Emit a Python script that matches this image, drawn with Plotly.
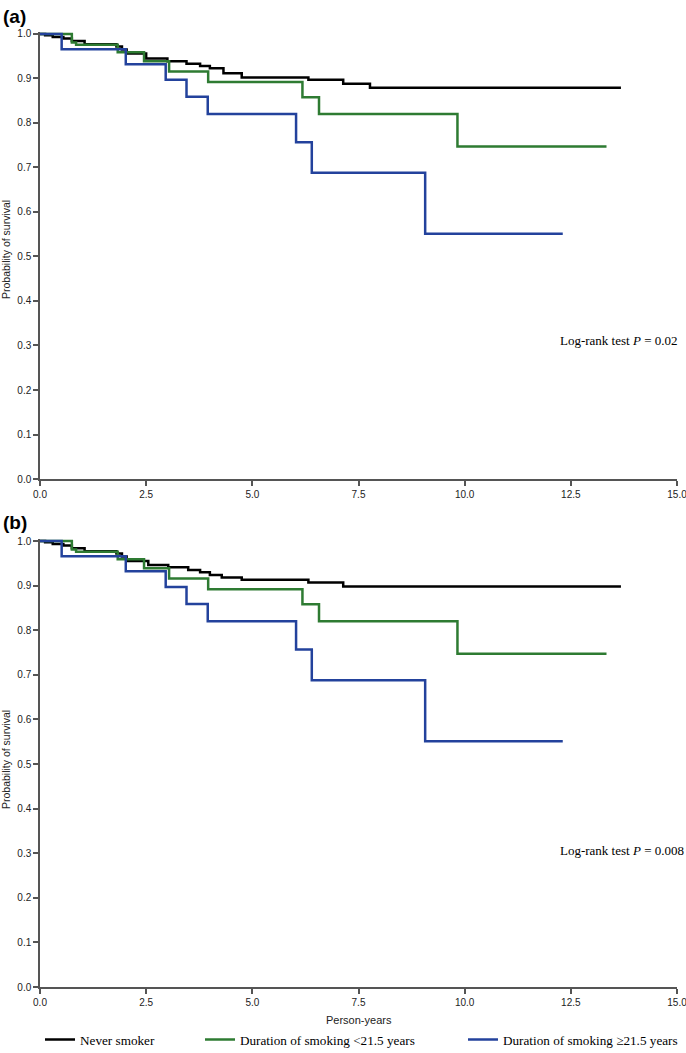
import plotly.graph_objects as go

# ---------------- data ----------------
year_ticks = [0, 2.5, 5, 7.5, 10, 12.5, 15]
surv_ticks = [0.0, 0.1, 0.2, 0.3, 0.4, 0.5, 0.6, 0.7, 0.8, 0.9, 1.0]

# panel (a) never smoker
never_a_t = [0, 0.12, 0.3, 0.55, 0.75, 1.05, 1.8, 1.93, 2.04, 2.5, 3.0, 3.45, 3.77, 4.0, 4.32, 4.75, 6.32, 7.14, 7.77, 13.68]
never_a_s = [1.0, 0.997, 0.993, 0.99, 0.984, 0.977, 0.972, 0.965, 0.956, 0.945, 0.939, 0.933, 0.928, 0.923, 0.912, 0.902, 0.897, 0.888, 0.879, 0.879]
# panel (b) never smoker
never_b_t = [0, 0.12, 0.3, 0.55, 0.75, 1.05, 1.8, 1.93, 2.04, 2.55, 3.02, 3.49, 3.77, 4.0, 4.28, 4.75, 6.32, 7.14, 13.68]
never_b_s = [1.0, 0.997, 0.993, 0.99, 0.984, 0.977, 0.972, 0.965, 0.955, 0.946, 0.941, 0.935, 0.930, 0.924, 0.918, 0.913, 0.907, 0.898, 0.898]
# duration of smoking < 21.5 years
short_t = [0, 0.75, 0.85, 1.83, 2.45, 3.04, 3.96, 6.18, 6.57, 9.83, 13.34]
short_s = [1.0, 0.981, 0.976, 0.959, 0.939, 0.916, 0.892, 0.858, 0.820, 0.747, 0.747]
# duration of smoking >= 21.5 years
long_t = [0, 0.51, 2.02, 2.96, 3.45, 3.95, 6.03, 6.40, 9.07, 12.31]
long_s = [1.0, 0.966, 0.932, 0.897, 0.859, 0.820, 0.757, 0.688, 0.551, 0.551]

group_names = ["Never smoker", "Duration of smoking &lt;21.5 years", "Duration of smoking ≥21.5 years"]
group_colors = ["#000000", "#2E7B32", "#23429C"]
panel_labels = ["(a)", "(b)"]
p_values = ["0.02", "0.008"]

# ---------------- layout geometry (window pixels; body margin removed) ----------------
W, H = 686, 1053
L = 40
R = W - 677
PW = W - L - R


def ypaper(win_y):
    return 1 - win_y / H


def xpaper(win_x):
    return (win_x - L) / PW


YMAX = 1.005
# panel a: y=0 at px 479, 0.1 = 44.5px ; panel b: y=0 at px 987, 0.1 = 44.6px
dom_a = [ypaper(479), ypaper(479 - YMAX * 445)]
dom_b = [ypaper(987), ypaper(987 - YMAX * 446)]

fig = go.Figure()

panels = [
    ("x", "y", [(never_a_t, never_a_s), (short_t, short_s), (long_t, long_s)], False),
    ("x2", "y2", [(never_b_t, never_b_s), (short_t, short_s), (long_t, long_s)], True),
]
legend_ids = ["legend", "legend2", "legend3"]
for xa, ya, curves, show in panels:
    for i, (t, s) in enumerate(curves):
        fig.add_trace(go.Scatter(
            x=t, y=s, mode="lines", line=dict(shape="hv", color=group_colors[i], width=2.5),
            name=group_names[i], xaxis=xa, yaxis=ya, showlegend=show,
            legend=legend_ids[i], hoverinfo="skip"))

axis_common = dict(
    showgrid=False, zeroline=False, showline=True, linecolor="#555555", linewidth=1.5,
    ticks="outside", ticklen=5, tickwidth=1.5, tickcolor="#555555",
    tickfont=dict(family="Arial, Liberation Sans, sans-serif", size=10, color="#222222"),
    tickformat=".1f", automargin=False, ticklabeloverflow="allow",
)

fig.update_layout(
    width=W, height=H,
    margin=dict(l=L, r=R, t=0, b=0, autoexpand=False),
    paper_bgcolor="white", plot_bgcolor="white",
    xaxis=dict(domain=[0, 1], range=[0, 15], tickvals=year_ticks, anchor="y", **axis_common),
    yaxis=dict(domain=dom_a, range=[0, YMAX], tickvals=surv_ticks, anchor="x", **axis_common),
    xaxis2=dict(domain=[0, 1], range=[0, 15], tickvals=year_ticks, anchor="y2", **axis_common),
    yaxis2=dict(domain=dom_b, range=[0, YMAX], tickvals=surv_ticks, anchor="x2", **axis_common),
)

leg_font = dict(family="Liberation Serif, Times New Roman, serif", size=13.2, color="#000000")
leg_x = [40, 200, 463]   # window x where each legend box starts (text starts ~40px later)
for lid, lx in zip(legend_ids, leg_x):
    fig.update_layout(**{lid: dict(
        orientation="h", xref="paper", yref="paper",
        x=xpaper(lx), y=ypaper(1040), xanchor="left", yanchor="middle",
        font=leg_font, bgcolor="rgba(0,0,0,0)", itemwidth=30)})

# panel labels
for lab, ytop in zip(panel_labels, [4, 510]):
    fig.add_annotation(text="<b>%s</b>" % lab, xref="paper", yref="paper",
                       x=xpaper(1), y=ypaper(ytop), xanchor="left", yanchor="top",
                       showarrow=False, font=dict(family="Arial, Liberation Sans, sans-serif", size=19, color="#000"))

# y-axis titles
for ycen in [250, 760]:
    fig.add_annotation(text="Probability of survival", xref="paper", yref="paper",
                       x=xpaper(6), y=ypaper(ycen), xanchor="center", yanchor="middle",
                       textangle=-90, showarrow=False,
                       font=dict(family="Arial, Liberation Sans, sans-serif", size=10.5, color="#222"))

# x-axis title (bottom panel only)
fig.add_annotation(text="Person-years", xref="paper", yref="paper",
                   x=0.5, y=ypaper(1020), xanchor="center", yanchor="middle", showarrow=False,
                   font=dict(family="Arial, Liberation Sans, sans-serif", size=11, color="#222"))

# log-rank annotations
for pv, ycen in zip(p_values, [340, 850]):
    fig.add_annotation(text="Log-rank test <i>P</i> = %s" % pv, xref="paper", yref="paper",
                       x=xpaper(558), y=ypaper(ycen), xanchor="left", yanchor="middle",
                       showarrow=False,
                       font=dict(family="Liberation Serif, Times New Roman, serif", size=13, color="#000"))

fig.write_html("out.html", config={"displayModeBar": False},
               post_script="document.body.style.margin='0px';")
